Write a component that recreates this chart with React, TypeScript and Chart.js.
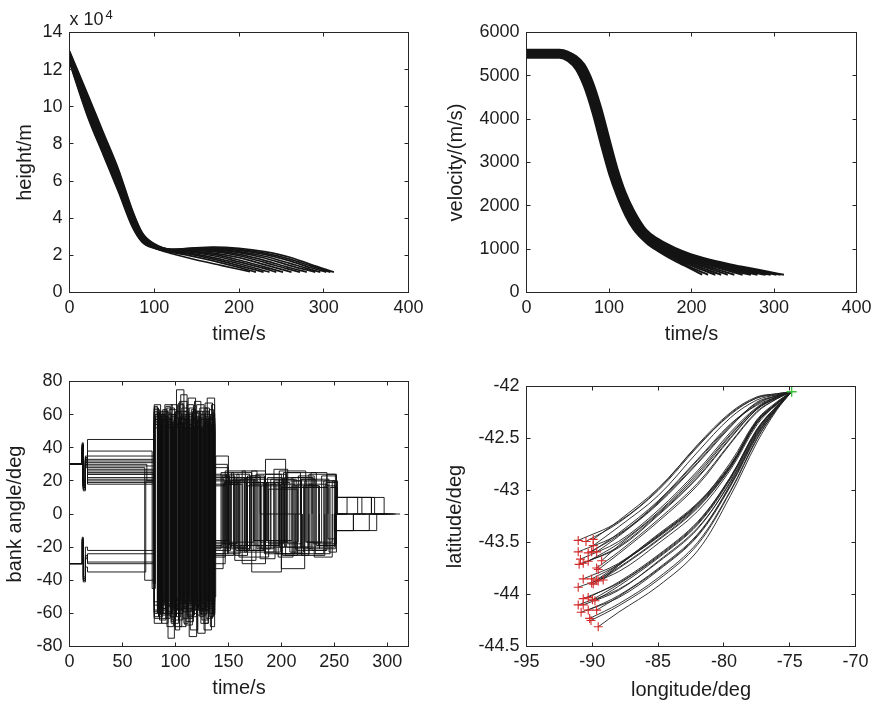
import React, { useEffect, useRef } from "react";
import { Chart, registerables } from "chart.js";

Chart.register(...registerables);

const FONT = "'Liberation Sans', Arial, Helvetica, sans-serif";
const TEXT = "#1c1c1c";
const BOX = "#262626";

// ---------------- data ----------------
// height runs: [time s, height ×10^4 m]
const heightRuns: [number, number][][] = [
  [[0, 12.95], [22, 10.51], [40, 8.51], [58, 6.51], [74, 4.38], [86, 3.16], [100, 2.6], [120, 2.32], [140, 2.38], [170, 2.45], [200, 2.38], [230, 2.2], [260, 1.9], [285, 1.5], [312, 1.1]],
  [[0, 13.0], [22, 10.6], [40, 8.6], [58, 6.6], [74, 4.45], [86, 3.2], [100, 2.62], [120, 2.33], [140, 2.36], [170, 2.42], [200, 2.33], [230, 2.12], [260, 1.8], [285, 1.42], [308, 1.1]],
  [[0, 12.86], [22, 10.32], [40, 8.32], [58, 6.32], [74, 4.24], [86, 3.08], [100, 2.56], [120, 2.29], [140, 2.33], [170, 2.38], [200, 2.27], [230, 2.05], [260, 1.7], [285, 1.33], [303, 1.1]],
  [[0, 12.91], [22, 10.42], [40, 8.42], [58, 6.42], [74, 4.31], [86, 3.12], [100, 2.58], [120, 2.31], [140, 2.3], [170, 2.33], [200, 2.2], [230, 1.95], [260, 1.57], [280, 1.3], [296, 1.1]],
  [[0, 12.77], [22, 10.14], [40, 8.14], [58, 6.14], [74, 4.1], [86, 3.01], [100, 2.53], [120, 2.27], [140, 2.3], [170, 2.3], [200, 2.15], [230, 1.86], [260, 1.45], [290, 1.1]],
  [[0, 12.82], [22, 10.23], [40, 8.23], [58, 6.23], [74, 4.17], [86, 3.05], [100, 2.55], [120, 2.28], [140, 2.28], [170, 2.25], [200, 2.05], [230, 1.73], [260, 1.33], [280, 1.1]],
  [[0, 12.68], [22, 9.95], [40, 7.95], [58, 5.95], [74, 3.97], [86, 2.93], [100, 2.49], [120, 2.24], [140, 2.25], [170, 2.2], [200, 1.98], [230, 1.62], [255, 1.3], [272, 1.1]],
  [[0, 12.72], [22, 10.05], [40, 8.05], [58, 6.05], [74, 4.03], [86, 2.97], [100, 2.51], [120, 2.26], [140, 2.22], [170, 2.12], [200, 1.88], [230, 1.5], [262, 1.1]],
  [[0, 12.58], [22, 9.77], [40, 7.77], [58, 5.77], [74, 3.83], [86, 2.85], [100, 2.45], [120, 2.22], [140, 2.2], [170, 2.05], [200, 1.75], [230, 1.38], [252, 1.1]],
  [[0, 12.63], [22, 9.86], [40, 7.86], [58, 5.86], [74, 3.9], [86, 2.89], [100, 2.47], [120, 2.23], [140, 2.18], [170, 1.98], [200, 1.65], [225, 1.35], [244, 1.1]],
  [[0, 12.49], [22, 9.58], [40, 7.58], [58, 5.58], [74, 3.69], [86, 2.78], [100, 2.42], [120, 2.19], [140, 2.12], [170, 1.88], [200, 1.55], [236, 1.1]],
  [[0, 12.54], [22, 9.68], [40, 7.68], [58, 5.68], [74, 3.76], [86, 2.82], [100, 2.44], [120, 2.21], [140, 2.08], [170, 1.8], [200, 1.45], [229, 1.1]],
  [[0, 12.4], [22, 9.4], [40, 7.4], [58, 5.4], [74, 3.55], [86, 2.7], [100, 2.38], [120, 2.17], [140, 2.0], [170, 1.7], [200, 1.35], [220, 1.1]],
  [[0, 12.45], [22, 9.49], [40, 7.49], [58, 5.49], [74, 3.62], [86, 2.74], [100, 2.4], [120, 2.1], [150, 1.75], [180, 1.45], [213, 1.12]],
];

// velocity runs: [time s, velocity m/s]
const velocityRuns: [number, number][][] = [
  [[0, 5420], [40, 5420], [50, 5344], [60, 5148], [70, 4744], [80, 4150], [90, 3430], [100, 2750], [110, 2210], [120, 1770], [130, 1450], [145, 1150], [160, 950], [180, 730], [200, 540], [213, 410]],
  [[0, 5460], [40, 5460], [50, 5384], [60, 5192], [70, 4800], [80, 4216], [90, 3504], [100, 2812], [110, 2260], [120, 1810], [130, 1485], [145, 1175], [160, 980], [180, 770], [200, 575], [220, 410]],
  [[0, 5560], [40, 5560], [50, 5466], [60, 5260], [70, 4868], [80, 4282], [90, 3578], [100, 2874], [110, 2310], [120, 1850], [130, 1515], [145, 1200], [160, 1005], [180, 800], [200, 620], [229, 410]],
  [[0, 5480], [40, 5480], [50, 5422], [60, 5256], [70, 4900], [80, 4348], [90, 3652], [100, 2936], [110, 2360], [120, 1895], [130, 1545], [145, 1220], [160, 1025], [180, 825], [200, 655], [236, 410]],
  [[0, 5520], [40, 5520], [50, 5438], [60, 5244], [70, 4860], [80, 4282], [90, 3578], [100, 2874], [110, 2310], [120, 1866], [130, 1548], [145, 1235], [160, 1045], [180, 845], [200, 685], [230, 500], [244, 410]],
  [[0, 5440], [40, 5440], [50, 5406], [60, 5268], [70, 4940], [80, 4414], [90, 3726], [100, 2998], [110, 2410], [120, 1942], [130, 1596], [145, 1255], [160, 1060], [180, 860], [200, 710], [230, 540], [252, 410]],
  [[0, 5580], [40, 5580], [50, 5516], [60, 5352], [70, 5016], [80, 4480], [90, 3800], [100, 3060], [110, 2460], [120, 1980], [130, 1620], [145, 1270], [160, 1075], [180, 875], [200, 735], [230, 580], [262, 410]],
  [[0, 5500], [40, 5500], [50, 5466], [60, 5336], [70, 5036], [80, 4536], [90, 3870], [100, 3134], [110, 2518], [120, 2026], [130, 1660], [145, 1290], [160, 1090], [180, 895], [200, 765], [230, 610], [260, 460], [272, 410]],
  [[0, 5450], [40, 5450], [50, 5437], [60, 5332], [70, 5062], [80, 4592], [90, 3940], [100, 3208], [110, 2576], [120, 2072], [130, 1695], [145, 1310], [160, 1110], [180, 915], [200, 790], [230, 630], [260, 490], [280, 410]],
  [[0, 5540], [40, 5540], [50, 5506], [60, 5384], [70, 5116], [80, 4648], [90, 4010], [100, 3282], [110, 2634], [120, 2118], [130, 1730], [145, 1335], [160, 1130], [180, 935], [200, 810], [230, 650], [260, 520], [290, 410]],
  [[0, 5480], [40, 5480], [50, 5470], [60, 5376], [70, 5140], [80, 4704], [90, 4080], [100, 3356], [110, 2692], [120, 2164], [130, 1770], [145, 1360], [160, 1150], [180, 955], [200, 825], [230, 670], [260, 540], [296, 410]],
  [[0, 5600], [40, 5600], [50, 5560], [60, 5440], [70, 5200], [80, 4760], [90, 4150], [100, 3430], [110, 2750], [120, 2210], [130, 1810], [145, 1390], [160, 1175], [180, 975], [200, 845], [230, 685], [260, 565], [290, 455], [303, 410]],
  [[0, 5520], [40, 5520], [50, 5504], [60, 5424], [70, 5220], [80, 4816], [90, 4220], [100, 3504], [110, 2812], [120, 2260], [130, 1855], [145, 1420], [160, 1200], [180, 1000], [200, 860], [230, 700], [260, 580], [290, 470], [308, 410]],
  [[0, 5560], [40, 5560], [50, 5537], [60, 5456], [70, 5264], [80, 4872], [90, 4290], [100, 3578], [110, 2874], [120, 2310], [130, 1900], [145, 1450], [160, 1230], [180, 1030], [200, 880], [230, 720], [260, 600], [290, 490], [312, 410]],
];

// bank angle runs: [switch time s, bank angle deg held from that time]
const bankRuns: [number, number][][] = [
  [[0, 30], [12, 36], [13, 17], [15, 30], [17, 26], [80, 63], [85, -57], [91, 56], [97, -64], [103, 58], [110, -55], [116, 62], [123, -60], [130, 54], [137, -22], [152, 20], [178, -20], [203, 22], [230, -18], [252, 10], [297, 0], [312, 0]],
  [[0, 30], [12, 42], [13, 15], [15, 33], [17, 24], [80, -62], [84, 60], [90, -55], [96, 66], [102, -58], [108, 52], [114, -70], [121, 57], [127, -52], [133, 60], [137, 24], [148, -21], [170, 18], [195, -24], [222, 20], [250, -10], [290, 0], [308, 0]],
  [[0, 30], [12, 38], [13, 20], [15, 34], [17, 28], [71, -40], [80, 66], [86, -60], [92, 52], [99, -68], [106, 64], [112, -57], [118, 53], [124, -66], [131, 58], [137, -30], [147, 26], [166, -19], [190, 21], [214, -22], [242, 19], [252, 10], [285, 0], [303, 0]],
  [[0, 30], [12, 40], [13, 18], [15, 31], [17, 35], [80, 58], [87, -66], [93, 60], [100, -52], [105, 72], [111, -62], [117, 56], [125, -58], [132, 50], [137, -18], [158, 22], [184, -24], [210, 17], [236, -21], [251, 0], [262, 10], [276, 0], [296, 0]],
  [[0, 30], [12, 41], [13, 16], [15, 32], [17, 38], [78, -45], [81, 60], [88, -53], [94, 63], [101, -60], [107, 55], [113, -74], [120, 62], [126, -55], [134, 66], [137, 28], [150, -17], [174, 21], [198, -20], [226, 24], [252, -10], [268, 0], [290, 0]],
  [[0, 30], [12, 39], [13, 19], [15, 33], [17, 45], [80, -55], [86, 62], [92, -68], [98, 54], [104, -56], [111, 66], [117, -52], [123, 58], [129, -63], [135, 52], [137, -25], [155, 19], [180, -17], [205, 25], [233, -19], [251, 10], [272, 0], [280, 0]],
  [[0, 30], [12, 37], [13, 17], [15, 29], [17, 22], [80, 65], [83, -60], [89, 58], [95, -62], [101, 75], [108, -54], [114, 57], [121, -72], [128, 60], [136, -50], [138, 35], [150, -20], [168, 23], [180, 0], [218, 21], [245, -23], [252, 0], [272, 0]],
  [[0, 30], [12, 43], [13, 14], [15, 34], [17, 32], [80, 60], [85, -64], [91, 53], [98, -57], [104, 62], [110, -65], [117, 55], [123, -54], [130, 70], [137, -20], [145, 18], [160, -26], [188, 15], [215, -24], [240, 20], [253, 0], [262, 0]],
  [[0, 30], [12, 38], [13, 21], [15, 30], [17, 20], [80, -58], [86, 56], [93, -75], [99, 61], [106, -53], [113, 58], [119, -58], [126, 53], [133, -68], [137, 22], [156, -28], [176, 24], [200, -33], [222, 16], [244, -15], [252, 0]],
  [[0, 30], [12, 40], [13, 16], [15, 35], [17, 30], [73, 20], [80, 55], [86, -58], [92, 64], [99, -55], [105, 59], [111, -61], [118, 68], [124, -56], [131, 55], [137, -33], [145, 22], [165, -22], [185, 33], [204, -25], [226, 18], [244, 0]],
  [[0, 30], [12, 39], [13, 18], [15, 28], [17, 24], [80, 57], [84, -52], [90, 66], [97, -60], [103, 52], [109, -67], [116, 61], [122, -58], [129, 57], [137, -20], [153, 25], [172, -35], [200, 16], [225, -21], [236, 0]],
  [[0, 30], [12, 42], [13, 17], [15, 31], [17, 27], [80, -66], [87, 59], [93, -56], [100, 55], [107, -63], [112, 70], [119, -52], [126, 62], [132, -60], [137, 30], [149, -23], [167, 19], [186, -16], [210, 22], [229, 0]],
  [[0, 30], [12, 36], [13, 20], [15, 29], [17, 18], [80, 61], [85, -63], [92, 57], [98, -51], [104, 68], [111, -58], [118, 52], [125, -64], [131, 58], [137, -16], [150, 18], [163, -30], [185, 24], [205, -20], [220, 0]],
  [[0, -30], [12, -15], [13, -40], [15, -26], [17, -29], [80, -63], [85, 59], [91, -60], [97, 52], [104, -68], [110, 60], [116, -55], [123, 64], [130, -52], [137, 18], [157, -22], [180, 17], [200, -24], [213, 0]],
  [[0, -30], [12, -16], [13, -38], [15, -20], [17, -22], [80, 56], [86, -61], [93, 55], [99, -58], [106, 60], [113, -52], [120, 66], [127, -70], [134, 54], [137, -24], [150, 21], [175, -19], [198, 26], [223, -17], [248, 20], [252, 10], [288, 0], [300, 0]],
  [[0, -30], [12, -14], [13, -41], [15, -32], [17, -35], [72, 20], [80, 64], [84, -55], [90, 61], [96, -66], [103, 57], [109, -53], [115, 58], [122, -57], [128, 67], [135, -60], [137, 20], [165, -23], [193, 20], [219, -25], [241, 17], [251, -10], [283, 0], [306, 0]],
  [[0, 30], [12, 41], [13, 17], [15, 32], [17, 21], [80, -60], [83, 54], [87, -57], [91, 65], [95, -53], [99, 58], [103, -64], [107, 51], [111, -59], [115, 63], [119, -55], [123, 57], [127, -66], [131, 52], [135, -58], [137, 21], [146, -18], [158, 24], [170, -22], [183, 19], [197, -26], [211, 20], [224, -17], [238, 23], [252, 0], [298, 0]],
  [[0, 30], [12, 38], [13, 19], [15, 33], [17, 31], [80, 54], [84, -62], [88, 57], [92, -54], [96, 60], [100, -70], [104, 55], [108, -52], [112, 61], [116, -60], [120, 53], [124, -57], [128, 64], [132, -54], [136, 56], [137, -19], [144, 23], [156, -25], [168, 17], [181, -21], [193, 27], [206, -18], [219, 21], [232, -24], [246, 16], [253, 10], [285, 0]],
  [[0, -30], [12, -17], [13, -39], [15, -25], [17, -30], [80, 62], [83, -56], [87, 60], [91, -63], [95, 52], [99, -55], [103, 67], [107, -59], [111, 54], [115, -51], [119, 59], [123, -62], [127, 55], [131, -57], [135, 61], [137, -26], [147, 20], [160, -19], [172, 26], [185, -23], [199, 18], [213, -21], [228, 25], [243, -20], [250, 0], [275, 0]],
  [[0, 30], [12, 37], [13, 16], [15, 30], [17, 29], [80, -53], [84, 58], [88, -60], [92, 54], [96, -58], [100, 62], [104, -54], [108, 57], [112, -63], [116, 51], [120, -56], [124, 60], [128, -52], [132, 57], [136, -61], [137, 17], [149, -24], [161, 21], [174, -16], [187, 22], [201, -25], [215, 18], [229, -22], [243, 24], [251, -10], [268, 0]],
  [[0, 30], [12, 42], [13, 15], [15, 31], [17, 25], [79, -42], [81, 59], [85, -54], [89, 62], [93, -59], [97, 55], [101, -62], [105, 58], [109, -50], [113, 64], [117, -58], [121, 52], [125, -61], [129, 59], [133, -53], [137, -21], [143, 25], [155, -20], [167, 22], [180, -27], [194, 19], [208, -23], [221, 17], [235, -19], [250, 0], [258, 0]],
  [[0, 30], [12, 40], [13, 18], [15, 34], [17, 33], [80, 57], [84, -59], [88, 53], [92, -61], [96, 59], [100, -52], [104, 66], [108, -57], [112, 52], [116, -62], [120, 58], [124, -53], [128, 61], [132, -56], [136, 53], [137, 23], [151, -19], [163, 26], [177, -21], [190, 18], [203, -17], [216, 23], [231, -26], [248, 0]],
  [[0, -30], [12, -15], [13, -40], [15, -27], [17, -24], [80, -59], [84, 61], [88, -52], [92, 57], [96, -65], [100, 53], [104, -57], [108, 62], [112, -54], [116, 56], [120, -61], [124, 50], [128, -58], [132, 63], [136, -55], [137, -17], [148, 24], [160, -22], [174, 19], [188, -18], [202, 25], [218, -20], [241, 0]],
  [[0, 30], [12, 39], [13, 20], [15, 32], [17, 19], [80, 52], [84, -57], [88, 63], [92, -55], [96, 58], [100, -60], [104, 54], [108, -66], [112, 59], [116, -51], [120, 61], [124, -59], [128, 56], [132, -62], [136, 50], [137, -24], [146, 19], [159, -21], [171, 23], [184, -19], [198, 21], [212, -24], [226, 0]],
];

// ground tracks: latitude at shared longitudes, then each track's end point
const trackStart: [number, number] = [-74.85, -42.05];
const trackLonGrid = [-74.85, -76, -77.5, -79.5, -82, -85, -88];
const trackLats: number[][] = [
  [-42.05, -42.07, -42.10, -42.25, -42.56, -42.99, -43.30],
  [-42.05, -42.07, -42.11, -42.26, -42.58, -43.00, -43.31],
  [-42.05, -42.08, -42.11, -42.27, -42.57, -42.98, -43.29],
  [-42.05, -42.08, -42.13, -42.30, -42.63, -43.05, -43.35],
  [-42.05, -42.09, -42.16, -42.37, -42.71, -43.11, -43.42],
  [-42.05, -42.09, -42.17, -42.38, -42.73, -43.12, -43.43],
  [-42.05, -42.10, -42.18, -42.36, -42.70, -43.10, -43.41],
  [-42.05, -42.09, -42.15, -42.39, -42.74, -43.13, -43.44],
  [-42.05, -42.10, -42.20, -42.44, -42.81, -43.19, -43.49],
  [-42.05, -42.11, -42.22, -42.49, -42.87, -43.23, -43.54],
  [-42.05, -42.11, -42.22, -42.50, -42.88, -43.24, -43.55],
  [-42.05, -42.11, -42.21, -42.46, -42.83, -43.21, -43.51],
  [-42.05, -42.10, -42.21, -42.47, -42.85, -43.22, -43.53],
  [-42.05, -42.12, -42.24, -42.54, -42.93, -43.28, -43.59],
  [-42.05, -42.12, -42.25, -42.55, -42.95, -43.30, -43.61],
  [-42.05, -42.16, -42.33, -42.75, -43.12, -43.42, -43.70],
  [-42.05, -42.15, -42.32, -42.73, -43.13, -43.44, -43.71],
  [-42.05, -42.16, -42.33, -42.76, -43.13, -43.43, -43.71],
  [-42.05, -42.17, -42.35, -42.78, -43.17, -43.48, -43.75],
  [-42.05, -42.16, -42.34, -42.76, -43.14, -43.44, -43.72],
  [-42.05, -42.17, -42.35, -42.77, -43.15, -43.45, -43.72],
  [-42.05, -42.17, -42.37, -42.80, -43.20, -43.51, -43.78],
  [-42.05, -42.17, -42.35, -42.78, -43.16, -43.47, -43.74],
  [-42.05, -42.19, -42.42, -42.87, -43.31, -43.63, -43.89],
  [-42.05, -42.19, -42.41, -42.87, -43.30, -43.62, -43.88],
  [-42.05, -42.19, -42.42, -42.88, -43.32, -43.64, -43.90],
  [-42.05, -42.19, -42.43, -42.89, -43.33, -43.65, -43.92],
  [-42.05, -42.20, -42.44, -42.91, -43.37, -43.69, -43.95],
  [-42.05, -42.20, -42.45, -42.92, -43.36, -43.68, -43.96],
  [-42.05, -42.21, -42.48, -42.96, -43.44, -43.77, -44.03],
  [-42.05, -42.21, -42.47, -42.95, -43.42, -43.75, -44.01],
  [-42.05, -42.21, -42.46, -42.94, -43.43, -43.76, -44.02],
  [-42.05, -42.22, -42.50, -43.00, -43.50, -43.84, -44.09],
  [-42.05, -42.22, -42.51, -43.01, -43.52, -43.86, -44.11],
  [-42.05, -42.23, -42.54, -43.05, -43.58, -43.92, -44.17],
];
const trackEndLon = [
  -91.07, -90.48, -89.93, -89.93, -91.07, -90.31, -90.05, -89.67, -90.9, -90.69, -91.0, -90.31, -89.29, -89.67, -89.55,
  -90.69, -90.05, -89.67, -89.93, -89.55, -89.17, -91.07, -90.05, -90.69, -90.31, -89.99, -89.8, -91.07, -90.69, -90.85,
  -90.31, -89.67, -90.2, -90.1, -89.55,
];
const trackEndLat = [
  -43.48, -43.49, -43.47, -43.53, -43.59, -43.6, -43.59, -43.59, -43.66, -43.7, -43.71, -43.68, -43.675, -43.745, -43.76,
  -43.85, -43.85, -43.86, -43.9, -43.87, -43.86, -43.93, -43.89, -44.04, -44.03, -44.05, -44.06, -44.1, -44.1, -44.17,
  -44.15, -44.15, -44.23, -44.25, -44.31,
];

// axis ticks
const heightAxis = { min: 0, max: 14, step: 2 };
const velocityAxis = { min: 0, max: 6000, step: 1000 };
const timeAxis = { min: 0, max: 400, step: 100 };
const bankTimeAxis = { min: 0, max: 320, step: 50 };
const bankAxis = { min: -80, max: 80, step: 20 };
const lonAxis = { min: -95, max: -70, step: 5 };
const latAxis = { min: -44.5, max: -42, step: 0.5 };

// ---------------- drawing ----------------
const toXY = (pts: [number, number][]) => pts.map(([x, y]) => ({ x, y }));

const boxPlugin = {
  id: "matlabBox",
  afterDraw(chart: any) {
    const { ctx, chartArea: a, scales } = chart;
    ctx.save();
    ctx.strokeStyle = BOX;
    ctx.lineWidth = 1;
    ctx.strokeRect(a.left, a.top, a.right - a.left, a.bottom - a.top);
    const tl = 4;
    ctx.beginPath();
    const xs = scales.x;
    const ys = scales.y;
    xs.ticks.forEach((t: any) => {
      const p = Math.floor(xs.getPixelForValue(t.value)) + 0.5;
      ctx.moveTo(p, a.bottom);
      ctx.lineTo(p, a.bottom - tl);
      ctx.moveTo(p, a.top);
      ctx.lineTo(p, a.top + tl);
    });
    ys.ticks.forEach((t: any) => {
      const p = Math.floor(ys.getPixelForValue(t.value)) + 0.5;
      ctx.moveTo(a.left, p);
      ctx.lineTo(a.left + tl, p);
      ctx.moveTo(a.right, p);
      ctx.lineTo(a.right - tl, p);
    });
    ctx.stroke();
    ctx.restore();
  },
};

interface AxisSpec {
  min: number;
  max: number;
  step: number;
  title: string;
  titlePad: number;
}
interface PanelSpec {
  left: number;
  top: number;
  width: number;
  height: number;
  area: { left: number; top: number; right: number; bottom: number };
  x: AxisSpec;
  y: AxisSpec;
  datasets: any[];
  extra?: (chart: any) => void;
}

const fmt = (v: any) => String(Number(Number(v).toFixed(2)));

function buildConfig(spec: PanelSpec): any {
  const { width: W, height: H, area } = spec;
  const tickFont = { family: FONT, size: 18 };
  const titleFont = { family: FONT, size: 20 };
  return {
    type: "line",
    data: { datasets: spec.datasets },
    options: {
      responsive: false,
      animation: false,
      events: [],
      layout: { padding: { left: 0, top: area.top, right: W - area.right, bottom: 0 } },
      plugins: { legend: { display: false }, tooltip: { enabled: false }, title: { display: false } },
      elements: { point: { radius: 0 }, line: { borderWidth: 1 } },
      scales: {
        x: {
          type: "linear",
          position: "bottom",
          min: spec.x.min,
          max: spec.x.max,
          grid: { display: false, drawTicks: false },
          border: { display: false },
          ticks: {
            stepSize: spec.x.step,
            includeBounds: false,
            autoSkip: false,
            maxRotation: 0,
            minRotation: 0,
            padding: 4.5,
            color: TEXT,
            font: tickFont,
            callback: fmt,
          },
          title: { display: true, text: spec.x.title, color: TEXT, font: titleFont, padding: { top: 0, bottom: spec.x.titlePad } },
          afterFit: (s: any) => {
            s.height = H - area.bottom;
          },
        },
        y: {
          type: "linear",
          position: "left",
          min: spec.y.min,
          max: spec.y.max,
          grid: { display: false, drawTicks: false },
          border: { display: false },
          ticks: {
            stepSize: spec.y.step,
            includeBounds: false,
            autoSkip: false,
            padding: 7,
            color: TEXT,
            font: tickFont,
            callback: fmt,
          },
          title: { display: true, text: spec.y.title, color: TEXT, font: titleFont, padding: { top: spec.y.titlePad, bottom: 0 } },
          afterFit: (s: any) => {
            s.width = area.left;
          },
        },
      },
    },
    plugins: [
      boxPlugin,
      {
        id: "extraText",
        afterDraw(chart: any) {
          if (spec.extra) spec.extra(chart);
        },
      },
    ],
  };
}

function Panel({ spec }: { spec: PanelSpec }) {
  const ref = useRef<HTMLCanvasElement>(null);
  useEffect(() => {
    const chart = new Chart(ref.current as HTMLCanvasElement, buildConfig(spec));
    return () => chart.destroy();
  }, []);
  return (
    <canvas
      ref={ref}
      width={spec.width}
      height={spec.height}
      style={{ position: "absolute", left: spec.left, top: spec.top, width: spec.width, height: spec.height }}
    />
  );
}

const LINE_COLOR = "#141414";

const heightSets = heightRuns.map((r) => ({
  data: toXY(r),
  borderColor: LINE_COLOR,
  borderWidth: 1.7,
  cubicInterpolationMode: "monotone",
  pointRadius: 0,
}));
const velocitySets = velocityRuns.map((r) => ({
  data: toXY(r),
  borderColor: LINE_COLOR,
  borderWidth: 2,
  cubicInterpolationMode: "monotone",
  pointRadius: 0,
}));
const bankSets = bankRuns.map((r) => ({
  data: toXY(r),
  borderColor: "rgba(15,15,15,0.92)",
  borderWidth: 1,
  stepped: true,
  pointRadius: 0,
}));

const trackSets = trackLats.map((lats, i) => ({
  data: [
    ...trackLonGrid.map((lon, j) => ({ x: lon, y: lats[j] })),
    { x: trackEndLon[i], y: trackEndLat[i] },
  ],
  borderColor: "#1e1e1e",
  borderWidth: 0.9,
  tension: 0.35,
  pointRadius: 0,
}));
const endMarkers = {
  data: trackEndLon.map((lon, i) => ({ x: lon, y: trackEndLat[i] })),
  showLine: false,
  pointStyle: "cross",
  pointRadius: 4.5,
  pointBorderColor: "#d42a2a",
  pointBorderWidth: 1.1,
  pointBackgroundColor: "#d42a2a",
};
const startMarker = {
  data: [{ x: trackStart[0], y: trackStart[1] }],
  showLine: false,
  pointStyle: "cross",
  pointRadius: 5,
  pointBorderColor: "#3cc03c",
  pointBorderWidth: 1.4,
};

const panels: PanelSpec[] = [
  {
    left: 0,
    top: 0,
    width: 440,
    height: 350,
    area: { left: 69.5, top: 32.5, right: 408.5, bottom: 292.5 },
    x: { ...timeAxis, title: "time/s", titlePad: 3.4 },
    y: { ...heightAxis, title: "height/m", titlePad: 13.7 },
    datasets: heightSets,
    extra: (chart: any) => {
      const ctx = chart.ctx;
      ctx.save();
      ctx.fillStyle = TEXT;
      ctx.textBaseline = "alphabetic";
      ctx.textAlign = "left";
      ctx.font = `18px ${FONT}`;
      ctx.fillText("x 10", 69.5, 25);
      const w = ctx.measureText("x 10").width;
      ctx.font = `13px ${FONT}`;
      ctx.fillText("4", 69.5 + w + 2, 18.5);
      ctx.restore();
    },
  },
  {
    left: 440,
    top: 0,
    width: 439,
    height: 350,
    area: { left: 86.5, top: 32.5, right: 416.5, bottom: 292.5 },
    x: { ...timeAxis, title: "time/s", titlePad: 3.4 },
    y: { ...velocityAxis, title: "velocity/(m/s)", titlePad: 4.7 },
    datasets: velocitySets,
  },
  {
    left: 0,
    top: 350,
    width: 440,
    height: 358,
    area: { left: 69.5, top: 31.5, right: 408.5, bottom: 296.5 },
    x: { ...bankTimeAxis, title: "time/s", titlePad: 8 },
    y: { ...bankAxis, title: "bank angle/deg", titlePad: 3.7 },
    datasets: bankSets,
  },
  {
    left: 440,
    top: 350,
    width: 439,
    height: 358,
    area: { left: 86.5, top: 36.5, right: 415.5, bottom: 296.5 },
    x: { ...lonAxis, title: "longitude/deg", titlePad: 5.3 },
    y: { ...latAxis, title: "latitude/deg", titlePad: 3.7 },
    datasets: [startMarker, endMarkers, ...trackSets],
  },
];

export default function App() {
  return (
    <div style={{ position: "absolute", left: 0, top: 0, width: 879, height: 708, background: "#fff", overflow: "hidden" }}>
      {panels.map((p, i) => (
        <Panel key={i} spec={p} />
      ))}
    </div>
  );
}
